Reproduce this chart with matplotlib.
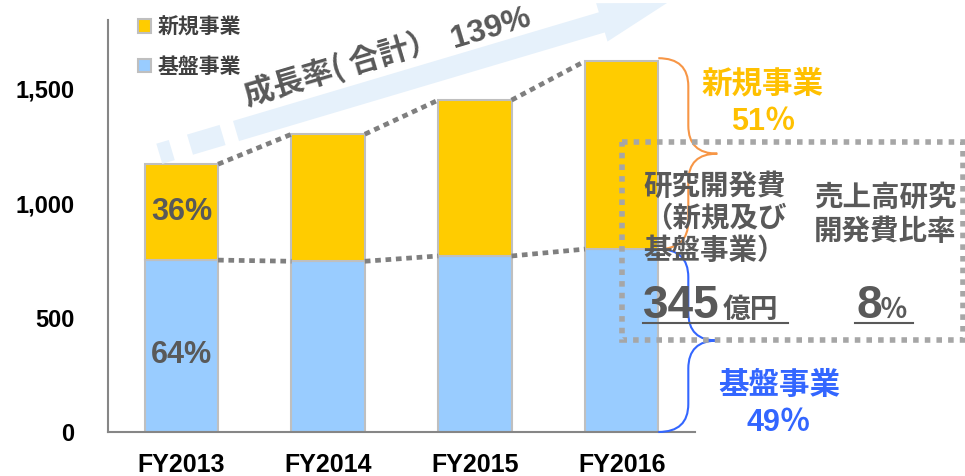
import numpy as np
import matplotlib
matplotlib.use("Agg")
import matplotlib.pyplot as plt
from matplotlib.path import Path
from matplotlib.patches import PathPatch, Polygon, Rectangle

# data
years = ["FY2013", "FY2014", "FY2015", "FY2016"]
base_biz = [751, 746, 769, 799]      # 基盤事業
new_biz = [419, 555, 681, 821]       # 新規事業
share_2013 = ["36%", "64%"]          # new / base share in FY2013
share_2016 = ["51％", "49％"]
growth_label = "成長率( 合計）"
growth_value = "139%"
rd_cost = "345"
rd_ratio = "8"

CJK = ["Noto Sans CJK JP", "DejaVu Sans"]
LAT = ["Liberation Sans", "Noto Sans CJK JP", "DejaVu Sans"]
GRAY = "#595959"
YEL = "#FFCC00"
BLUE = "#99CCFF"
ORANGE = "#FFC000"
BLUE_TXT = "#3366FF"

W, H = 965, 476
fig = plt.figure(figsize=(W / 100, H / 100), dpi=100)
ax = fig.add_axes([108 / W, 44 / H, 587 / W, 412 / H])

x = np.arange(len(years))
b1 = ax.bar(x, base_biz, width=0.5, color=BLUE, edgecolor="#BFBFBF", lw=1.5, label="基盤事業")
b2 = ax.bar(x, new_biz, width=0.5, bottom=base_biz, color=YEL, edgecolor="#BFBFBF", lw=1.5,
            label="新規事業")
total = [b + n for b, n in zip(base_biz, new_biz)]

ax.set_xlim(-0.5, 3.5)
ax.set_ylim(0, 1800)
ax.set_xticks(x)
ax.set_xticklabels(years, fontsize=18, fontweight="bold", family=LAT)
ax.set_yticks([0, 500, 1000, 1500])
ax.set_yticklabels([f"{v:,}" for v in [0, 500, 1000, 1500]], fontsize=17, fontweight="bold",
                   family=LAT)
ax.tick_params(length=0, axis="y", pad=24)
ax.tick_params(length=0, axis="x", pad=15)
for s in ["top", "right"]:
    ax.spines[s].set_visible(False)
for s in ["left", "bottom"]:
    ax.spines[s].set_color("#868686")
    ax.spines[s].set_linewidth(1.5)

# dotted connectors between bars
for i in range(len(years) - 1):
    for ser in (total, base_biz):
        ax.plot([i + 0.25, i + 0.75], [ser[i], ser[i + 1]], color="#7F7F7F", lw=3.4,
                linestyle=(0, (1.2, 1)), dash_capstyle="butt", clip_on=False, zorder=3)

# share labels in first bar
ax.text(0, base_biz[0] + new_biz[0] / 2, share_2013[0], ha="center", va="center",
        fontsize=22, fontweight="bold", color=GRAY, family=LAT)
ax.text(0, base_biz[0] * 0.45, share_2013[1], ha="center", va="center",
        fontsize=22, fontweight="bold", color=GRAY, family=LAT)

leg = ax.legend(handles=[b2, b1], loc="upper left", bbox_to_anchor=(128 / W, 1 - 6 / H),
                bbox_transform=fig.transFigure, frameon=False, handlelength=0.6,
                handleheight=0.6, handletextpad=0.3, labelspacing=0.9, borderpad=0,
                prop={"family": CJK, "weight": "bold", "size": 15})
for t in leg.get_texts():
    t.set_color("#404040")

# overlay in pixel coords for decorations
ov = fig.add_axes([0, 0, 1, 1])
ov.set_xlim(0, W)
ov.set_ylim(H, 0)
ov.axis("off")
ov.set_zorder(3)


def to_px(xd, yd):
    d = ax.transData.transform((xd, yd))
    return d[0], H - d[1]


# growth arrow
tail = np.array([236.0, 131.0])
tip = np.array([667.0, 3.0])
u = (tip - tail) / np.linalg.norm(tip - tail)
n = np.array([u[1], -u[0]])
L = np.linalg.norm(tip - tail)
hw, hh, hl = 10.5, 20, 68


def pt(s, t):
    return tail + u * s + n * t


arrow = [pt(0, -hw), pt(L - hl, -hw), pt(L - hl, -hh), pt(L, 0), pt(L - hl, hh),
         pt(L - hl, hw), pt(0, hw)]
ov.add_patch(Polygon(arrow, closed=True, color="#E6F1FB", lw=0))
for s0, s1 in [(-80, -67), (-48, -14)]:
    ov.add_patch(Polygon([pt(s0, -hw), pt(s1, -hw), pt(s1, hw), pt(s0, hw)], closed=True,
                         color="#E6F1FB", lw=0))
ang = np.degrees(np.arctan2(-(tip - tail)[1], (tip - tail)[0]))
ov.text(247, 105, growth_label, rotation=ang, rotation_mode="anchor", ha="left",
        va="baseline", fontsize=22, color=GRAY, fontweight="bold", family=CJK)
ov.text(454, 48, growth_value, rotation=ang, rotation_mode="anchor", ha="left",
        va="baseline", fontsize=23, fontweight="bold", color=GRAY, family=LAT)


# braces on FY2016
def brace(y0, y1, color):
    x0, _ = to_px(3.25, 0)
    x1, xt = x0 + 30, x0 + 59
    ym = (y0 + y1) / 2
    r = 28
    codes = [Path.MOVETO, Path.CURVE3, Path.CURVE3, Path.LINETO, Path.CURVE3, Path.CURVE3,
             Path.MOVETO, Path.CURVE3, Path.CURVE3, Path.LINETO, Path.CURVE3, Path.CURVE3]
    verts = [(x0, y0), (x1, y0), (x1, y0 + r), (x1, ym - r), (x1, ym), (xt, ym),
             (xt, ym), (x1, ym), (x1, ym + r), (x1, y1 - r), (x1, y1), (x0, y1)]
    ov.add_patch(PathPatch(Path(verts, codes), fill=False, edgecolor=color, lw=1.5))


top_px = to_px(3, total[3])[1] - 3
mid_px = to_px(3, base_biz[3])[1]
zero_px = to_px(3, 0)[1]
brace(top_px, mid_px, "#F79646")
brace(mid_px, zero_px, BLUE_TXT)

ov.text(763, 83, "新規事業", ha="center", va="center", fontsize=22, fontweight="bold",
        color=ORANGE, family=CJK)
ov.text(763, 122, share_2016[0], ha="center", va="center", fontsize=22, fontweight="bold",
        color=ORANGE, family=LAT)
ov.text(779, 385, "基盤事業", ha="center", va="center", fontsize=22, fontweight="bold",
        color=BLUE_TXT, family=CJK)
ov.text(779, 423, share_2016[1], ha="center", va="center", fontsize=22, fontweight="bold",
        color=BLUE_TXT, family=LAT)

# R&D dotted box
ov.add_patch(Rectangle((622, 142), 341, 198, fill=False, edgecolor="#A6A6A6", lw=4,
                       linestyle=(0, (1, 1.1)), capstyle="butt"))
ov.text(715, 219, "研究開発費\n（新規及び\n基盤事業）", ha="center", va="center",
        fontsize=20.5, fontweight="bold", color=GRAY, family=CJK, linespacing=1.2)
ov.text(885, 215, "売上高研究\n開発費比率", ha="center", va="center",
        fontsize=20.5, fontweight="bold", color=GRAY, family=CJK, linespacing=1.25)
ov.text(643, 318, rd_cost, ha="left", va="baseline", fontsize=33, fontweight="bold",
        color=GRAY, family=LAT)
ov.text(723, 318, "億円", ha="left", va="baseline", fontsize=20, fontweight="bold",
        color=GRAY, family=CJK)
ov.text(857, 318, rd_ratio, ha="left", va="baseline", fontsize=33, fontweight="bold",
        color=GRAY, family=LAT)
ov.text(880, 318, "％", ha="left", va="baseline", fontsize=20, fontweight="bold",
        color=GRAY, family=CJK)
ov.plot([643, 788], [323, 323], color=GRAY, lw=1.5)
ov.plot([855, 913], [323, 323], color=GRAY, lw=1.5)

fig.savefig("out.png", dpi=100)
